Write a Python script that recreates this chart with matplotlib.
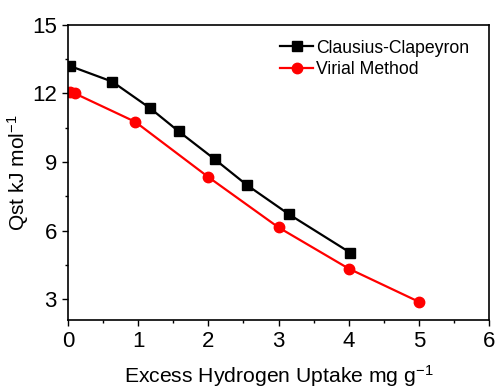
import numpy as np
import matplotlib
matplotlib.use("Agg")
from matplotlib import pyplot as plt
from matplotlib.ticker import MultipleLocator

# values
cc_uptake = [0.03, 0.63, 1.17, 1.58, 2.09, 2.55, 3.15, 4.02]
cc_qst = [13.2, 12.52, 11.36, 10.34, 9.13, 8.0, 6.72, 5.05]

vir_uptake = [0.03, 0.1, 0.96, 2.0, 3.0, 4.0, 5.0]
vir_qst = [12.05, 12.0, 10.76, 8.35, 6.15, 4.35, 2.9]

plt.rcParams['font.family'] = ['Liberation Sans', 'DejaVu Sans']
plt.rcParams['mathtext.default'] = 'regular'

fig = plt.figure(figsize=(4.96, 3.88), dpi=100)
ax = fig.add_axes([0.137, 0.175, 0.849, 0.761])

ax.plot(cc_uptake, cc_qst, color='black', lw=1.6, marker='s', ms=6.5, label='Clausius-Clapeyron')
ax.plot(vir_uptake, vir_qst, color='red', lw=1.6, marker='o', ms=7.5, label='Virial Method')

ax.set_xlim(0, 6)
ax.set_ylim(2.1, 15)
ax.xaxis.set_major_locator(MultipleLocator(1))
ax.xaxis.set_minor_locator(MultipleLocator(0.5))
ax.yaxis.set_major_locator(MultipleLocator(3))
ax.yaxis.set_minor_locator(MultipleLocator(1.5))
ax.tick_params(which='major', direction='out', length=4.5, width=1, labelsize=16)
ax.tick_params(which='minor', direction='out', length=2.5, width=1)
for s in ax.spines.values():
    s.set_linewidth(1.2)

ax.set_xlabel('Excess Hydrogen Uptake mg g$^{-1}$', fontsize=15.2, labelpad=8)
ax.set_ylabel('Qst kJ mol$^{-1}$', fontsize=15, labelpad=1)

ax.legend(loc='upper left', bbox_to_anchor=(0.504, 0.95), frameon=False, fontsize=12.7,
          handlelength=1.85, handletextpad=0.2, labelspacing=0.27, borderaxespad=0,
          borderpad=0)

fig.savefig('out.png', dpi=100)
